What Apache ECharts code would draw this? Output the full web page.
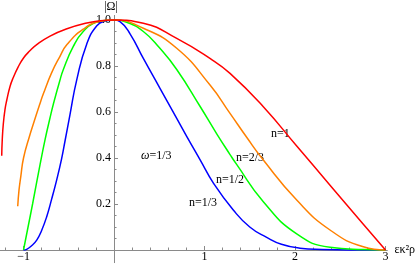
<!DOCTYPE html>
<html>
<head>
<meta charset="utf-8">
<script src="https://cdn.jsdelivr.net/npm/echarts@6/dist/echarts.min.js"></script>
<style>
html,body{margin:0;padding:0;background:#fff;}
#chart{width:415px;height:264px;}
</style>
</head>
<body>
<div id="chart"></div>
<script>
// ---- data ----
const xRed = [-1.241,-1.235,-1.223,-1.205,-1.186,-1.15,-1.113,-1.06,-1.0,-0.93,-0.854,-0.707,-0.52,-0.3,-0.15,0,0.324,0.693,1.06,1.282,1.65,2.019,2.387,2.755,3.0];
const yRed = [0.41,0.48,0.55,0.61,0.65,0.71,0.75,0.795,0.835,0.866,0.893,0.93,0.962,0.987,0.997,1.0,0.986,0.92,0.833,0.768,0.623,0.452,0.282,0.112,0];

const xOrange = [-1.064,-1.05,-1.03,-1.0,-0.93,-0.89,-0.82,-0.78,-0.69,-0.6,-0.52,-0.34,-0.155,0,0.324,0.693,1.061,1.282,1.466,1.65,2.019,2.387,2.755,3.0];
const yOrange = [0.19,0.26,0.32,0.40,0.5,0.55,0.635,0.68,0.77,0.84,0.893,0.96,0.994,1.0,0.964,0.877,0.717,0.594,0.49,0.391,0.217,0.087,0.014,0];

const xGreen = [-1.0,-0.95,-0.9,-0.818,-0.762,-0.707,-0.67,-0.6,-0.56,-0.45,-0.34,-0.2,-0.1,0,0.14,0.324,0.5,0.693,0.95,1.135,1.282,1.355,1.65,2.019,2.387,2.755,3.0];
const yGreen = [0,0.1,0.2,0.37,0.48,0.575,0.635,0.735,0.785,0.885,0.95,0.99,0.998,1.0,0.99,0.95,0.88,0.785,0.625,0.505,0.415,0.372,0.21,0.07,0.012,0.002,0];

const xBlue = [-1.0,-0.965,-0.92,-0.854,-0.8,-0.744,-0.69,-0.634,-0.58,-0.541,-0.486,-0.412,-0.302,-0.19,-0.1,0,0.066,0.177,0.324,0.508,0.693,0.803,0.95,1.1,1.318,1.5,1.687,1.85,2.055,2.3,2.6,3.0];
const yBlue = [0,0.003,0.015,0.043,0.085,0.145,0.22,0.304,0.395,0.475,0.59,0.74,0.895,0.975,0.995,1.0,0.993,0.94,0.833,0.703,0.572,0.494,0.393,0.29,0.174,0.1,0.055,0.025,0.008,0.002,0,0];

const xMajorTicks = [-1,0,1,2,3];
const xTickLabels = [-1,1,2,3];
const xMinorTicks = [-1.2,-0.8,-0.6,-0.4,-0.2,0.2,0.4,0.6,0.8,1.2,1.4,1.6,1.8,2.2,2.4,2.6,2.8];
const yMajorTicks = [0.2,0.4,0.6,0.8,1.0];
const yMinorTicks = [0.05,0.1,0.15,0.25,0.3,0.35,0.45,0.5,0.55,0.65,0.7,0.75,0.85,0.9,0.95];

const seriesNames = ['n=1','n=2/3','n=1/2','n=1/3'];
const seriesColors = ['#ff0000','#ff8000','#00ff00','#0000ff'];

function pairs(xs, ys){ return xs.map((x,i)=>[x, ys[i]]); }

const W = 415, H = 264;
const XMIN=-1.26, XMAX=3.02, YMIN=-0.055, YMAX=1.02;
const G = {left:0, right:27.7, top:15.4, bottom:1.35};
const gridW = W - G.left - G.right, gridH = H - G.top - G.bottom;
// shift the axes from the grid edges onto the zero lines
const xAxisOffset = -((0 - YMIN) / (YMAX - YMIN)) * gridH;
const yAxisOffset = -((0 - XMIN) / (XMAX - XMIN)) * gridW;

const axisColor = '#8a8a8a';
const font = '"Liberation Serif","DejaVu Serif",serif';

const chart = echarts.init(document.getElementById('chart'), null, {renderer:'canvas'});
const allData = [pairs(xRed,yRed), pairs(xOrange,yOrange), pairs(xGreen,yGreen), pairs(xBlue,yBlue)];

chart.setOption({
  animation:false,
  backgroundColor:'#fff',
  grid:Object.assign({containLabel:false, outerBoundsMode:'none'}, G),
  xAxis:[{
    type:'value', min:XMIN, max:XMAX, position:'bottom', offset:xAxisOffset,
    name:'εκ²ρ', nameLocation:'end', nameGap:5,
    nameTextStyle:{fontFamily:font, fontSize:12, color:'#000', verticalAlign:'middle'},
    axisLine:{show:true, onZero:false, lineStyle:{color:axisColor, width:1}},
    axisTick:{show:true, inside:true, length:4, customValues:xMajorTicks, lineStyle:{color:axisColor}},
    axisLabel:{show:true, customValues:xTickLabels, margin:1, fontFamily:font, fontSize:12, color:'#000',
      formatter:v=> v<0 ? '\u2212'+Math.abs(v) : String(v)},
    splitLine:{show:false}
  },{
    type:'value', min:XMIN, max:XMAX, position:'bottom', offset:xAxisOffset,
    axisLine:{show:false, onZero:false},
    axisTick:{show:true, inside:true, length:2.5, customValues:xMinorTicks, lineStyle:{color:axisColor}},
    axisLabel:{show:false},
    splitLine:{show:false}
  }],
  yAxis:[{
    type:'value', min:YMIN, max:YMAX, position:'left', offset:yAxisOffset,
    name:'|Ω|', nameLocation:'end', nameGap:3,
    nameTextStyle:{fontFamily:font, fontSize:12, color:'#000', padding:[0,6,0,0]},
    axisLine:{show:true, onZero:false, lineStyle:{color:axisColor, width:1}},
    axisTick:{show:true, inside:true, length:4, customValues:yMajorTicks, lineStyle:{color:axisColor}},
    axisLabel:{show:true, customValues:yMajorTicks, margin:3, fontFamily:font, fontSize:12, color:'#000',
      formatter:v=>v.toFixed(1)},
    splitLine:{show:false}
  },{
    type:'value', min:YMIN, max:YMAX, position:'left', offset:yAxisOffset,
    axisLine:{show:false, onZero:false},
    axisTick:{show:true, inside:true, length:2.5, customValues:yMinorTicks, lineStyle:{color:axisColor}},
    axisLabel:{show:false},
    splitLine:{show:false}
  }],
  series: allData.map((d,i)=>({
    name:seriesNames[i], type:'line', data:d, xAxisIndex:0, yAxisIndex:0,
    showSymbol:false, smooth:0.5,
    lineStyle:{color:seriesColors[i], width:1.5}, z:10-i
  })),
  graphic:[
    {type:'text', left:271, top:128, style:{text:'n=1', font:'12px '+font, fill:'#000'}},
    {type:'text', left:236, top:152, style:{text:'n=2/3', font:'12px '+font, fill:'#000'}},
    {type:'text', left:216, top:174, style:{text:'n=1/2', font:'12px '+font, fill:'#000'}},
    {type:'text', left:189, top:197, style:{text:'n=1/3', font:'12px '+font, fill:'#000'}},
    {type:'text', left:141, top:150, style:{
      text:'{i|ω}=1/3', font:'12px '+font, fill:'#000',
      rich:{i:{fontStyle:'italic', fontFamily:font, fontSize:12, fill:'#000'}}}}
  ]
});
</script>
</body>
</html>
